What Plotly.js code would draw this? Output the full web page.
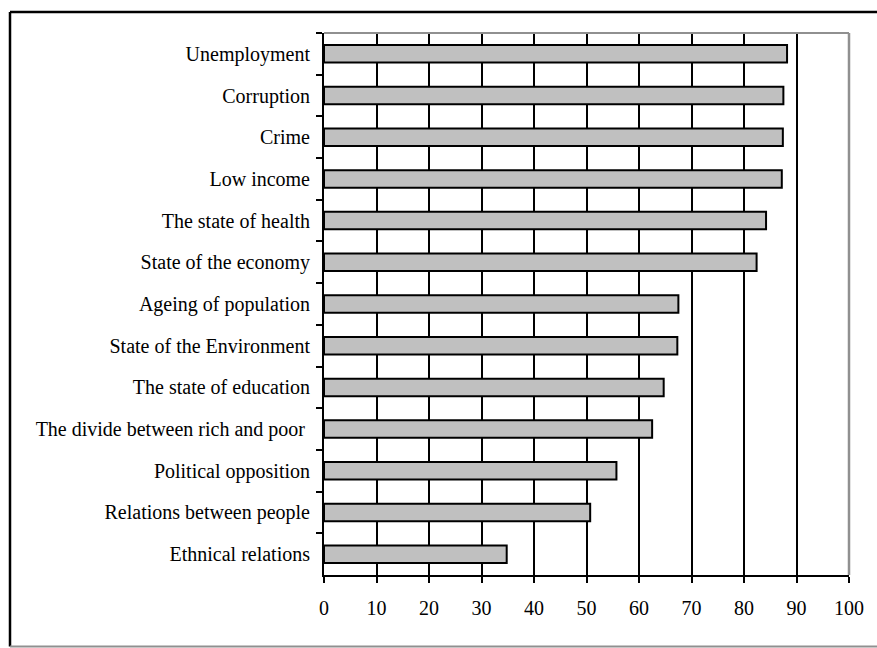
<!DOCTYPE html>
<html>
<head>
<meta charset="utf-8">
<script src="https://cdn.plot.ly/plotly-3.0.1.min.js"></script>
<style>
  html, body { margin: 0; padding: 0; background: #fff; }
  #chart { width: 877px; height: 648px; }
</style>
</head>
<body>
<div id="chart"></div>
<script>
var categories = [
  "Unemployment",
  "Corruption",
  "Crime",
  "Low income",
  "The state of health",
  "State of the economy",
  "Ageing of population",
  "State of the Environment",
  "The state of education",
  "The divide between rich and poor\u00a0",
  "Political opposition",
  "Relations between people",
  "Ethnical relations"
];
var values = [88.2, 87.5, 87.4, 87.2, 84.2, 82.4, 67.5, 67.3, 64.7, 62.5, 55.7, 50.7, 34.8];
var xTicks = [0, 10, 20, 30, 40, 50, 60, 70, 80, 90, 100];

// pixel geometry of the plot area (for frame shapes)
var L = 324, R = 849, T = 33, B = 575.5;
function px(x) { return (x - L) / (R - L); }
function py(y) { return (B - y) / (B - T); }

var trace = {
  type: "bar",
  orientation: "h",
  y: categories,
  x: values,
  width: 0.42,
  marker: { color: "#c0c0c0", line: { color: "#000000", width: 2 } },
  hoverinfo: "skip"
};

var font = { family: "Liberation Serif", size: 20, color: "#000000" };

var layout = {
  width: 877,
  height: 648,
  margin: { l: L, r: 877 - R, t: T, b: 648 - B, pad: 0 },
  paper_bgcolor: "#ffffff",
  plot_bgcolor: "#ffffff",
  showlegend: false,
  font: font,
  xaxis: {
    range: [0, 100],
    tickvals: xTicks,
    ticktext: xTicks.map(String),
    showgrid: true,
    gridcolor: "#000000",
    gridwidth: 2,
    zeroline: false,
    showline: true,
    linecolor: "#000000",
    linewidth: 2,
    ticks: "outside",
    ticklen: 6,
    tickwidth: 2,
    tickcolor: "#000000",
    ticklabelstandoff: 8,
    tickfont: font,
    fixedrange: true
  },
  yaxis: {
    type: "category",
    autorange: "reversed",
    tickson: "boundaries",
    showgrid: false,
    zeroline: false,
    showline: true,
    linecolor: "#000000",
    linewidth: 2,
    ticks: "outside",
    ticklen: 6,
    tickwidth: 2,
    tickcolor: "#000000",
    ticklabelstandoff: 8,
    tickfont: font,
    fixedrange: true
  },
  shapes: [
    { type: "line", xref: "paper", yref: "paper", x0: 0, x1: 1, y0: 1, y1: 1,
      line: { color: "#909090", width: 2 }, layer: "above" },
    { type: "line", xref: "paper", yref: "paper", x0: 1, x1: 1, y0: 0, y1: 1,
      line: { color: "#909090", width: 2.5 }, layer: "above" },
    { type: "line", xref: "paper", yref: "paper", x0: px(10), x1: px(880), y0: py(12), y1: py(12),
      line: { color: "#000000", width: 2.5 }, layer: "above" },
    { type: "line", xref: "paper", yref: "paper", x0: px(10), x1: px(10), y0: py(12), y1: py(647),
      line: { color: "#000000", width: 2.5 }, layer: "above" },
    { type: "line", xref: "paper", yref: "paper", x0: px(10), x1: px(880), y0: py(647), y1: py(647),
      line: { color: "#909090", width: 2 }, layer: "above" }
  ]
};

Plotly.newPlot("chart", [trace], layout, { displayModeBar: false, staticPlot: true });
</script>
</body>
</html>
